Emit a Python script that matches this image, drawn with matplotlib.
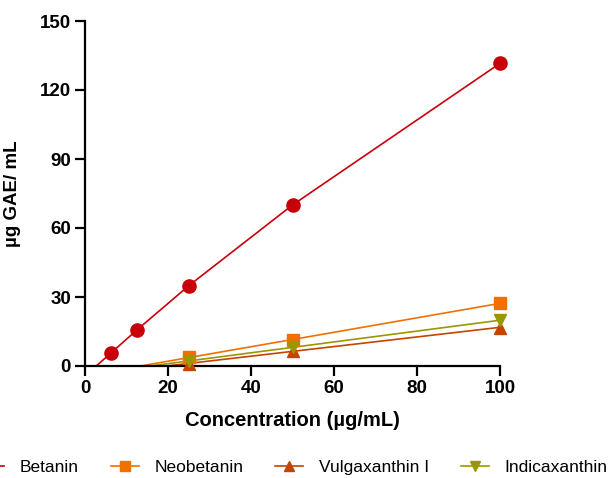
import numpy as np
import matplotlib.pyplot as plt

plt.rcParams['font.family'] = ['Liberation Sans', 'DejaVu Sans']

# data
conc_bet = np.array([6.25, 12.5, 25, 50, 100])
bet = np.array([5.65, 15.65, 34.9, 70.0, 131.6])
conc = np.array([25, 50, 100])
neo = np.array([3.8, 11.3, 27.3])
vul = np.array([0.9, 6.7, 16.7])
ind = np.array([2.0, 8.4, 19.8])

names = ['Betanin', 'Neobetanin', 'Vulgaxanthin I', 'Indicaxanthin']
colors = ['#C8000A', '#F07000', '#C44400', '#9A9800']
markers = ['o', 's', '^', 'v']
xs = [conc_bet, conc, conc, conc]
ys = [bet, neo, vul, ind]

fig = plt.figure(figsize=(6.12, 4.78), dpi=100)
ax = fig.add_axes([85/612, 1-366/478, 415/612, 345/478])

for i, (x, y, c, m, n) in enumerate(zip(xs, ys, colors, markers, names)):
    if i == 0:
        # betanin: joined points, first segment run down to the x axis
        x0 = x[0] - y[0]*(x[1]-x[0])/(y[1]-y[0])
        xl = np.r_[x0, x]
        yl = np.r_[0, y]
    else:
        k, b = np.polyfit(x, y, 1)
        xl = np.array([-b/k, 100])
        yl = k*xl + b
    ax.plot(xl, yl, color=c, lw=1.2, clip_on=False)
    ax.plot(x, y, ls='none', marker=m, color=c, ms=9.5 if m == 'o' else 9,
            clip_on=False, zorder=3)
    ax.plot([], [], color=c, lw=1.2, marker=m, ms=7, label=n)

ax.set_xlim(0, 100)
ax.set_ylim(0, 150)
ax.set_xticks([0, 20, 40, 60, 80, 100])
ax.set_yticks([0, 30, 60, 90, 120, 150])
for s in ['top', 'right']:
    ax.spines[s].set_visible(False)
for s in ['left', 'bottom']:
    ax.spines[s].set_linewidth(1.6)
ax.tick_params(width=1.6, length=7, labelsize=13.5, pad=3)
for t in ax.get_xticklabels() + ax.get_yticklabels():
    t.set_fontweight('bold')
ax.set_xlabel('Concentration (µg/mL)', fontsize=14.5, fontweight='bold', labelpad=10)
ax.set_ylabel('µg GAE/ mL', fontsize=13.5, fontweight='bold', labelpad=14)

fig.legend(loc='center', bbox_to_anchor=(292/612, 1-467/478), ncol=4,
           frameon=False, fontsize=12.5, handlelength=1.6, handletextpad=0.9,
           columnspacing=1.85)

fig.savefig('out.png', dpi=100)
